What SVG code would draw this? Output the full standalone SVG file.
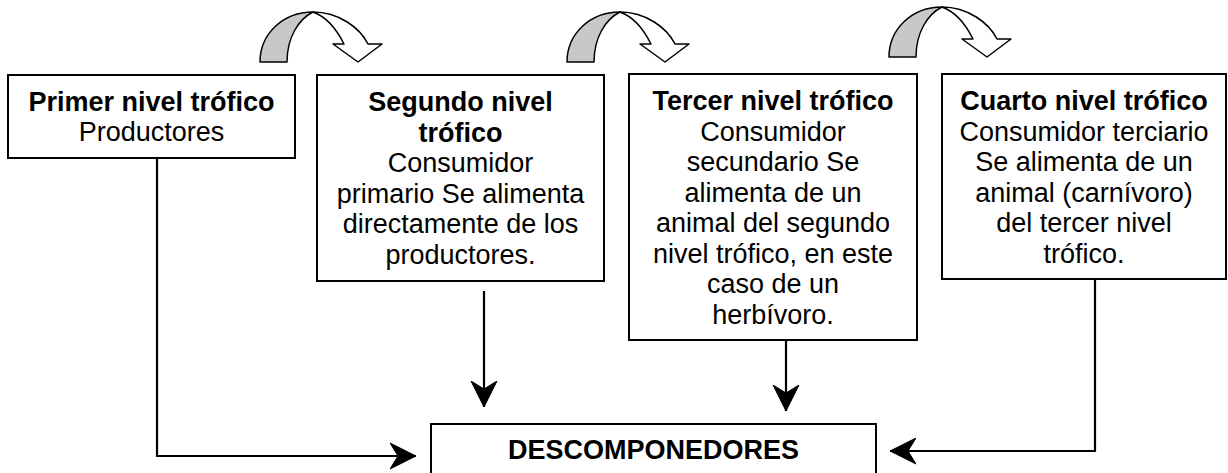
<svg xmlns="http://www.w3.org/2000/svg" width="1228" height="473" viewBox="0 0 1228 473">
<defs>
<style>
.box{fill:#fff;stroke:#000;stroke-width:2}
.t{font-family:"Liberation Sans",Arial,sans-serif;font-size:27px;fill:#000;text-anchor:middle}
.b{font-weight:bold}
.con{fill:none;stroke:#000;stroke-width:2.2}
.back{fill:#c8c8c8;stroke:#000;stroke-width:1.5;stroke-linejoin:round}
.front{fill:#fff;stroke:#000;stroke-width:1.5;stroke-linejoin:round}
</style>
<marker id="ah" markerUnits="userSpaceOnUse" markerWidth="30" markerHeight="30" refX="26" refY="14" orient="auto" viewBox="0 0 30 30">
<path d="M0,1 L26,14 L0,27 L8,14 Z" fill="#000" stroke="#000" stroke-width="1" stroke-linejoin="miter"/>
</marker>
<g id="curl">
<path class="back" d="M260,62 C260,34 283,12 313,12 C299,19 287,37 287,62 Z"/>
<path class="front" d="M313,12 C339,12 360,28 368,44 L382,44 L358,62 L333,44 L344,44 C337,30 327,17 313,12 Z"/>
</g>
</defs>

<g id="flow-arrows">
<use href="#curl"/>
<use href="#curl" transform="translate(307,0)"/>
<use href="#curl" transform="translate(629,-5)"/>
</g>

<g id="connectors">
<path class="con" d="M157,158 V456 H416" marker-end="url(#ah)"/>
<path class="con" d="M484,291 V407" marker-end="url(#ah)"/>
<path class="con" d="M786,340 V411" marker-end="url(#ah)"/>
<path class="con" d="M1095,279 V451 H890" marker-end="url(#ah)"/>
</g>

<g id="node-primer">
<rect class="box" x="8" y="75" width="287" height="83"/>
<text class="t b" x="151.5" y="111">Primer nivel trófico</text>
<text class="t" x="151.5" y="141">Productores</text>
</g>

<g id="node-segundo">
<rect class="box" x="317" y="75" width="287" height="206"/>
<text class="t b" x="460.5" y="111">Segundo nivel</text>
<text class="t b" x="460.5" y="141.5">trófico</text>
<text class="t" x="460.5" y="172">Consumidor</text>
<text class="t" x="460.5" y="202.5">primario Se alimenta</text>
<text class="t" x="460.5" y="233">directamente de los</text>
<text class="t" x="460.5" y="263.5">productores.</text>
</g>

<g id="node-tercer">
<rect class="box" x="629" y="74" width="288" height="266"/>
<text class="t b" x="773" y="110">Tercer nivel trófico</text>
<text class="t" x="773" y="140.5">Consumidor</text>
<text class="t" x="773" y="171">secundario Se</text>
<text class="t" x="773" y="201.5">alimenta de un</text>
<text class="t" x="773" y="232">animal del segundo</text>
<text class="t" x="773" y="262.5">nivel trófico, en este</text>
<text class="t" x="773" y="293">caso de un</text>
<text class="t" x="773" y="323.5">herbívoro.</text>
</g>

<g id="node-cuarto">
<rect class="box" x="942" y="74" width="284" height="205"/>
<text class="t b" x="1084" y="110">Cuarto nivel trófico</text>
<text class="t" x="1084" y="140.5">Consumidor terciario</text>
<text class="t" x="1084" y="171">Se alimenta de un</text>
<text class="t" x="1084" y="201.5">animal (carnívoro)</text>
<text class="t" x="1084" y="232">del tercer nivel</text>
<text class="t" x="1084" y="262.5">trófico.</text>
</g>

<g id="node-descomponedores">
<rect class="box" x="431" y="424" width="445" height="70"/>
<text class="t b" x="653.5" y="459">DESCOMPONEDORES</text>
</g>
</svg>
